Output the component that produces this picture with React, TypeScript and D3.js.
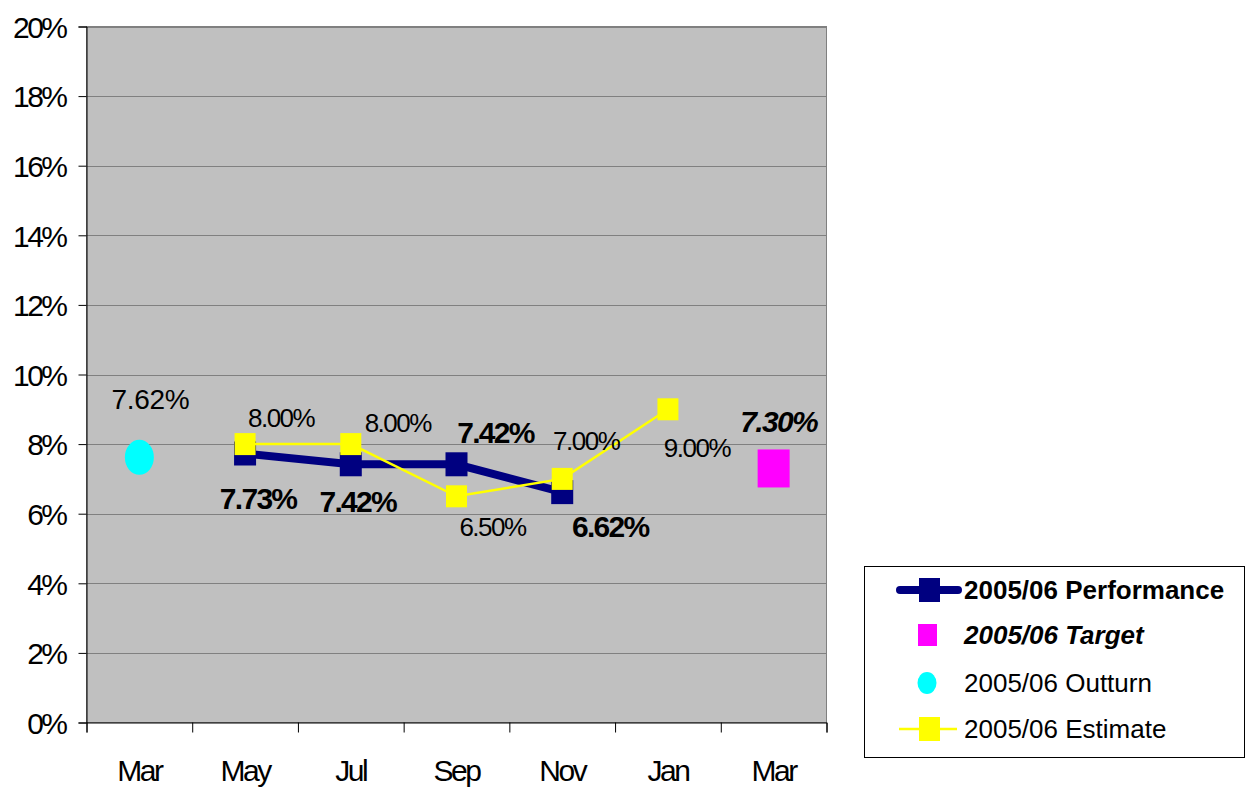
import React, { useEffect, useRef } from "react";
import * as d3 from "d3";

// categories (two Mar's, so indexed)
const months = ["Mar", "May", "Jul", "Sep", "Nov", "Jan", "Mar"];
const yTicks = [0, 0.02, 0.04, 0.06, 0.08, 0.1, 0.12, 0.14, 0.16, 0.18, 0.2];

const performance = [
  { i: 1, v: 0.0773 },
  { i: 2, v: 0.0742 },
  { i: 3, v: 0.0742 },
  { i: 4, v: 0.0662 },
];
const estimate = [
  { i: 1, v: 0.08 },
  { i: 2, v: 0.08 },
  { i: 3, v: 0.065 },
  { i: 4, v: 0.07 },
  { i: 5, v: 0.09 },
];
const outturn = [{ i: 0, v: 0.0762 }];
const target = [{ i: 6, v: 0.073 }];

// label offsets (px) from each point
const perfLabelOff = [[13, 56], [7, 48], [39, -21], [48, 45]];
const estLabelOff = [[36, -17], [47, -12], [36, 40], [24, -29], [29, 48]];
const outLabelOff = [[11, -48]];
const tgtLabelOff = [[5, -36]];

const legendItems = ["2005/06 Performance", "2005/06 Target", "2005/06 Outturn", "2005/06 Estimate"];

const App = () => {
  const svgRef = useRef<SVGSVGElement>(null);

  useEffect(() => {
    const width = 1246;
    const height = 787;
    const plot = { left: 86.5, right: 826.5, top: 26.5, bottom: 722.5 };
    const font = "'Liberation Sans', Arial, sans-serif";

    const svg = d3.select(svgRef.current);
    svg.selectAll("*").remove();
    svg.attr("width", width).attr("height", height);

    const x = d3.scaleBand<number>().domain(d3.range(months.length)).range([plot.left, plot.right]);
    const y = d3.scaleLinear().domain([0, 0.2]).range([plot.bottom, plot.top]);
    const cx = (i: number) => (x(i) as number) + x.bandwidth() / 2;

    // plot background
    svg.append("rect")
      .attr("x", plot.left).attr("y", plot.top)
      .attr("width", plot.right - plot.left).attr("height", plot.bottom - plot.top)
      .attr("fill", "#c0c0c0").attr("stroke", "#808080").attr("stroke-width", 1);

    // grid
    svg.append("g").selectAll("line").data(yTicks.slice(1)).enter().append("line")
      .attr("x1", plot.left).attr("x2", plot.right)
      .attr("y1", (d) => Math.round(y(d)) + 0.5).attr("y2", (d) => Math.round(y(d)) + 0.5)
      .attr("stroke", "#808080").attr("stroke-width", 1);

    // y axis
    const yAxis = d3.axisLeft(y).tickValues(yTicks).tickSize(8).tickPadding(13)
      .tickFormat((d) => `${Math.round((d as number) * 100)}%`);
    const gy = svg.append("g").attr("transform", `translate(${plot.left},0)`).call(yAxis);
    gy.select(".domain").attr("stroke", "#000");
    gy.selectAll("text").attr("font-family", font).attr("font-size", 30)
      .attr("letter-spacing", "-2.5").attr("fill", "#000").attr("dy", "0.36em");

    // x axis
    const xAxis = d3.axisBottom(d3.scaleLinear().domain([0, months.length]).range([plot.left, plot.right]))
      .tickValues(d3.range(months.length + 1)).tickSize(10).tickFormat(() => "");
    const gx = svg.append("g").attr("transform", `translate(0,${plot.bottom})`).call(xAxis);
    gx.select(".domain").attr("stroke", "#000");
    svg.append("g").selectAll("text").data(months).enter().append("text")
      .attr("x", (_, i) => cx(i)).attr("y", 781)
      .attr("text-anchor", "middle").attr("font-family", font).attr("font-size", 30)
      .attr("letter-spacing", "-2.5").text((d) => d);

    const line = d3.line<{ i: number; v: number }>().x((d) => cx(d.i)).y((d) => y(d.v));

    // performance line
    svg.append("path").datum(performance).attr("d", line)
      .attr("fill", "none").attr("stroke", "#000080").attr("stroke-width", 8);
    svg.append("g").selectAll("rect").data(performance).enter().append("rect")
      .attr("x", (d) => cx(d.i) - 11).attr("y", (d) => y(d.v) - 12)
      .attr("width", 22).attr("height", 24).attr("fill", "#000080");

    // estimate line
    svg.append("path").datum(estimate).attr("d", line)
      .attr("fill", "none").attr("stroke", "#ffff00").attr("stroke-width", 2.5);
    svg.append("g").selectAll("rect").data(estimate).enter().append("rect")
      .attr("x", (d) => cx(d.i) - 10.5).attr("y", (d) => y(d.v) - 11)
      .attr("width", 21).attr("height", 22).attr("fill", "#ffff00");

    // outturn
    svg.append("g").selectAll("ellipse").data(outturn).enter().append("ellipse")
      .attr("cx", (d) => cx(d.i)).attr("cy", (d) => y(d.v))
      .attr("rx", 14.5).attr("ry", 17.5).attr("fill", "#00ffff");

    // target
    svg.append("g").selectAll("rect").data(target).enter().append("rect")
      .attr("x", (d) => cx(d.i) - 16).attr("y", (d) => y(d.v) - 19)
      .attr("width", 32).attr("height", 38).attr("fill", "#ff00ff");

    // data labels
    const labels = (data: { i: number; v: number }[], off: number[][], weight: string, style: string, size: number, ls: number) =>
      svg.append("g").selectAll("text").data(data).enter().append("text")
        .attr("x", (d, k) => cx(d.i) + off[k][0]).attr("y", (d, k) => y(d.v) + off[k][1])
        .attr("text-anchor", "middle").attr("font-family", font).attr("font-size", size)
        .attr("font-weight", weight).attr("font-style", style).attr("letter-spacing", ls)
        .text((d) => `${(d.v * 100).toFixed(2)}%`);
    labels(estimate, estLabelOff, "normal", "normal", 26, -1.5);
    labels(outturn, outLabelOff, "normal", "normal", 28, -0.3);
    labels(performance, perfLabelOff, "bold", "normal", 30, -1.7);
    labels(target, tgtLabelOff, "bold", "italic", 30, -1.7);

    // legend
    const lg = svg.append("g");
    lg.append("rect").attr("x", 864.5).attr("y", 566.5).attr("width", 380).attr("height", 191)
      .attr("fill", "#fff").attr("stroke", "#000").attr("stroke-width", 1);
    const rowY = [590, 635, 683, 729];
    lg.append("line").attr("x1", 900).attr("x2", 958).attr("y1", rowY[0]).attr("y2", rowY[0])
      .attr("stroke", "#000080").attr("stroke-width", 8).attr("stroke-linecap", "round");
    lg.append("rect").attr("x", 919).attr("y", rowY[0] - 12).attr("width", 21).attr("height", 24).attr("fill", "#000080");
    lg.append("rect").attr("x", 918).attr("y", rowY[1] - 11).attr("width", 19).attr("height", 22).attr("fill", "#ff00ff");
    lg.append("ellipse").attr("cx", 927).attr("cy", rowY[2]).attr("rx", 9.5).attr("ry", 11).attr("fill", "#00ffff");
    lg.append("line").attr("x1", 899).attr("x2", 957).attr("y1", rowY[3]).attr("y2", rowY[3])
      .attr("stroke", "#ffff00").attr("stroke-width", 2.5);
    lg.append("rect").attr("x", 919).attr("y", rowY[3] - 12).attr("width", 21).attr("height", 24).attr("fill", "#ffff00");
    lg.selectAll("text.leg").data(legendItems).enter().append("text").attr("class", "leg")
      .attr("x", 964).attr("y", (_, k) => rowY[k] + 9)
      .attr("font-family", font).attr("font-size", 26)
      .attr("font-weight", (_, k) => (k < 2 ? "bold" : "normal"))
      .attr("font-style", (_, k) => (k === 1 ? "italic" : "normal"))
      .text((d) => d);
  }, []);

  return <svg ref={svgRef} style={{ position: "absolute", left: 0, top: 0 }}></svg>;
};

export default App;
